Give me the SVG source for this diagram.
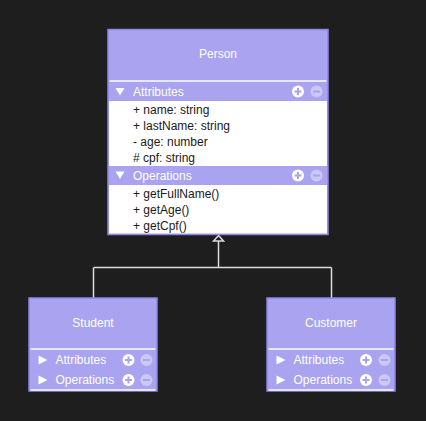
<svg xmlns="http://www.w3.org/2000/svg" width="426" height="421" viewBox="0 0 426 421">
<defs>
<style>
.box{fill:#a9a3f0;stroke:#8d86e6;stroke-width:1.5}
.sep{stroke:#ffffff;stroke-width:1.5}
.body{fill:#ffffff}
.title{font-family:"Liberation Sans",Arial,sans-serif;font-size:12px;fill:#ffffff;text-anchor:middle}
.sec{font-family:"Liberation Sans",Arial,sans-serif;font-size:12px;fill:#ffffff}
.row{font-family:"Liberation Sans",Arial,sans-serif;font-size:12px;fill:#1a1a1a}
.tri{fill:#ffffff}
.conn{fill:none;stroke:#dcdcdc;stroke-width:1.5}
</style>
<g id="plus"><circle r="6" fill="#ffffff"/><path d="M-3.5 0H3.5M0 -3.5V3.5" stroke="#a9a3f0" stroke-width="2"/></g>
<g id="minus"><circle r="6" fill="#ffffff" fill-opacity="0.4"/><path d="M-3.5 0H3.5" stroke="#a9a3f0" stroke-width="2"/></g>
</defs>
<rect width="426" height="421" fill="#1e1e1e"/>

<g id="connectors">
<path class="conn" d="M218.5 241V267.5M93.5 267.5H331.5M93.5 267.5V298M331.5 267.5V298"/>
<polygon points="218.5,235.5 223.5,241 213.5,241" fill="#1e1e1e" stroke="#dcdcdc" stroke-width="1.5"/>
</g>

<g id="person">
<rect class="box" x="108" y="29.5" width="220" height="205"/>
<text class="title" x="218" y="58">Person</text>
<line class="sep" x1="109.5" y1="81" x2="326.5" y2="81"/>
<rect class="body" x="109" y="101" width="218" height="65"/>
<rect class="body" x="109" y="185" width="218" height="48.5"/>
<polygon class="tri" points="115.5,88 124.5,88 120,95.5"/>
<text class="sec" x="133" y="96">Attributes</text>
<use href="#plus" x="298" y="91.5"/>
<use href="#minus" x="316.5" y="91.5"/>
<text class="row" x="133" y="114">+ name: string</text>
<text class="row" x="133" y="130">+ lastName: string</text>
<text class="row" x="133" y="146">- age: number</text>
<text class="row" x="133" y="162">#  cpf: string</text>
<polygon class="tri" points="115.5,171.5 124.5,171.5 120,179"/>
<text class="sec" x="133" y="180">Operations</text>
<use href="#plus" x="298" y="175.5"/>
<use href="#minus" x="316.5" y="175.5"/>
<text class="row" x="133" y="198">+ getFullName()</text>
<text class="row" x="133" y="214">+ getAge()</text>
<text class="row" x="133" y="230">+ getCpf()</text>
</g>

<g id="student">
<rect class="box" x="29" y="298" width="128" height="93"/>
<text class="title" x="93" y="327">Student</text>
<line class="sep" x1="30.5" y1="349" x2="155.5" y2="349"/>
<polygon class="tri" points="38.5,355.5 47.5,360 38.5,364.5"/>
<text class="sec" x="55.5" y="364">Attributes</text>
<use href="#plus" x="128.5" y="360"/>
<use href="#minus" x="146.5" y="360"/>
<polygon class="tri" points="38.5,375.5 47.5,380 38.5,384.5"/>
<text class="sec" x="55.5" y="384">Operations</text>
<use href="#plus" x="128.5" y="380"/>
<use href="#minus" x="146.5" y="380"/>
<line class="sep" x1="30.5" y1="390" x2="155.5" y2="390"/>
</g>

<g id="customer">
<rect class="box" x="267" y="298" width="128" height="93"/>
<text class="title" x="331" y="327">Customer</text>
<line class="sep" x1="268.5" y1="349" x2="393.5" y2="349"/>
<polygon class="tri" points="276.5,355.5 285.5,360 276.5,364.5"/>
<text class="sec" x="293.5" y="364">Attributes</text>
<use href="#plus" x="366" y="360"/>
<use href="#minus" x="384.5" y="360"/>
<polygon class="tri" points="276.5,375.5 285.5,380 276.5,384.5"/>
<text class="sec" x="293.5" y="384">Operations</text>
<use href="#plus" x="366" y="380"/>
<use href="#minus" x="384.5" y="380"/>
<line class="sep" x1="268.5" y1="390" x2="393.5" y2="390"/>
</g>
</svg>
